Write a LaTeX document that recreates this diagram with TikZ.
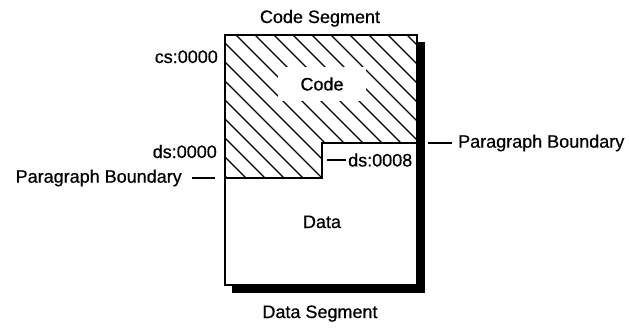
\documentclass[tikz,border=0pt]{standalone}
\usepackage{fontspec}
\setmainfont{Liberation Sans}[FakeBold=0.6]
\begin{document}
\begin{tikzpicture}[x=1pt,y=-1pt,
  lbl/.style={font=\fontsize{18}{20}\selectfont, inner sep=0pt},
  tick/.style={line width=1.3pt},
  edge/.style={line width=1.4pt}]
\useasboundingbox (0,0) rectangle (629,327);
% shadow
\fill[black] (417,42) rectangle (425,293);
\fill[black] (232,285) rectangle (425,293);
% box
\fill[white] (225,35) rectangle (417,285);
% hatching
\begin{scope}
\clip (225,35) -- (417,35) -- (417,143) -- (322,143) -- (322,178) -- (225,178) -- cycle;
\foreach \c in {-160,-141,...,400} {
  \draw[line width=1.4pt] (\c+35,35) -- (\c+35+200,235);
}
\end{scope}
\node[lbl, fill=white, minimum width=88pt, minimum height=34pt] (code) at (322,84) {Code};
\draw[edge] (225,35) rectangle (417,285);
\draw[edge] (417,143) -- (322,143) -- (322,178) -- (225,178);
% labels
\node[lbl, anchor=base] (cseg) at (320,23) {Code Segment};
\node[lbl, anchor=base] (dseg) at (320,318) {Data Segment};
\node[lbl, anchor=base] (data) at (322,228) {Data};
\node[lbl, anchor=base east] (cs) at (218,63) {cs:0000};
\node[lbl, anchor=base east] (ds) at (217,158) {ds:0000};
\coordinate (pbl1) at (192,178);
\coordinate (pbl2) at (215,178);
\draw[tick] (pbl1) -- (pbl2);
\node[lbl, anchor=east] (pbl) at (182,178) {Paragraph Boundary};
\coordinate (pbr1) at (428,143);
\coordinate (pbr2) at (452,143);
\draw[tick] (pbr1) -- (pbr2);
\node[lbl, anchor=west] (pbr) at (458,143) {Paragraph Boundary};
\coordinate (d81) at (327,160);
\coordinate (d82) at (346,160);
\draw[tick] (d81) -- (d82);
\node[lbl, anchor=west] (ds8) at (348,160) {ds:0008};
\end{tikzpicture}
\end{document}
